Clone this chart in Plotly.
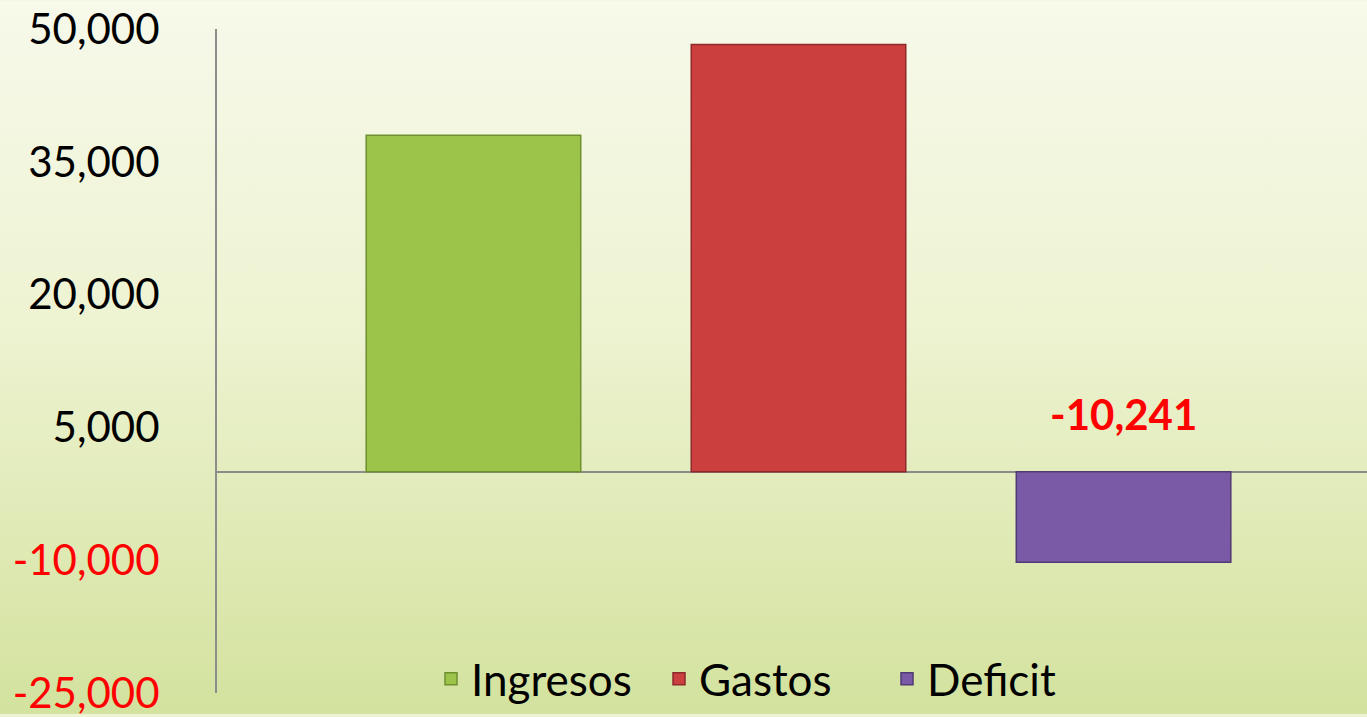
import base64
import plotly.graph_objects as go

# ---- data ----
categories = ["Ingresos", "Gastos", "Deficit"]
values = [38000, 48241, -10241]
bar_colors = ["#9cc44a", "#cc3f3f", "#7a5aa6"]
line_colors = ["#6f8f2e", "#8e2a2a", "#503a75"]
tick_values = [-25000, -10000, 5000, 20000, 35000, 50000]
label_category = "Deficit"

FONT = "Lato, 'Open Sans', sans-serif"


def fmt(v):
    return f"{v:,.0f}"


tick_text = [
    (f'<span style="color:#ff0000">{fmt(v)}</span>' if v < 0 else fmt(v))
    for v in tick_values
]

fig = go.Figure()
for cat, val, col, lc in zip(categories, values, bar_colors, line_colors):
    fig.add_trace(go.Bar(
        x=[cat], y=[val], name=cat,
        marker=dict(color=col, line=dict(color=lc, width=1.5)),
    ))

# gradient background as an svg image
svg = (
    '<svg xmlns="http://www.w3.org/2000/svg" width="1367" height="717" preserveAspectRatio="none">'
    '<defs><linearGradient id="g" x1="0" y1="0" x2="0" y2="1">'
    '<stop offset="0" stop-color="#f7f9ea"/>'
    '<stop offset="0.45" stop-color="#eef3d2"/>'
    '<stop offset="1" stop-color="#d3e29e"/>'
    '</linearGradient></defs>'
    '<rect width="1367" height="717" fill="url(#g)"/></svg>'
)
svg_uri = "data:image/svg+xml;base64," + base64.b64encode(svg.encode()).decode()

W, H = 1367, 717
L, R, T, B = 217, 0, 29, 21
pw, ph = W - L - R, H - T - B

label_val = values[categories.index(label_category)]

fig.update_layout(
    width=W, height=H,
    margin=dict(l=L, r=R, t=T, b=B),
    paper_bgcolor="#eef3d2",
    plot_bgcolor="rgba(0,0,0,0)",
    barmode="overlay",
    bargap=0.34,
    font=dict(family=FONT, color="#000000"),
    showlegend=True,
    legend=dict(
        orientation="h",
        x=(431 - L) / pw, xanchor="left",
        y=(H - B - 682) / ph, yanchor="middle",
        bgcolor="rgba(0,0,0,0)",
        font=dict(size=44, family=FONT, color="#000000"),
        itemwidth=30,
        entrywidth=183, entrywidthmode="pixels",
    ),
    xaxis=dict(
        type="category",
        categoryorder="array", categoryarray=categories,
        range=[-0.789, 2.749],
        showticklabels=False, showgrid=False, zeroline=False,
        showline=False, ticks="",
    ),
    yaxis=dict(
        range=[-25000, 50000],
        tickvals=tick_values, ticktext=tick_text,
        tickfont=dict(size=42, family=FONT, color="#000000"),
        showgrid=False,
        zeroline=True, zerolinecolor="#8c8c8c", zerolinewidth=2,
        showline=True, linecolor="#8c8c8c", linewidth=2,
        ticks="", ticklabelstandoff=47,
        ticklabeloverflow="allow",
    ),
    images=[dict(
        source=svg_uri, xref="paper", yref="paper",
        x=-L / pw, y=1 + T / ph, sizex=W / pw, sizey=H / ph,
        xanchor="left", yanchor="top", sizing="stretch", layer="below",
    )],
    annotations=[dict(
        x=label_category, y=0, xref="x", yref="y",
        text=f"<b>{fmt(label_val)}</b>",
        showarrow=False, yanchor="bottom", yshift=31,
        font=dict(size=42, family=FONT, color="#ff0000"),
    )],
)

fig.write_html(
    "out.html",
    config={"displayModeBar": False},
    post_script="document.body.style.margin='0';document.body.style.overflow='hidden';",
)
